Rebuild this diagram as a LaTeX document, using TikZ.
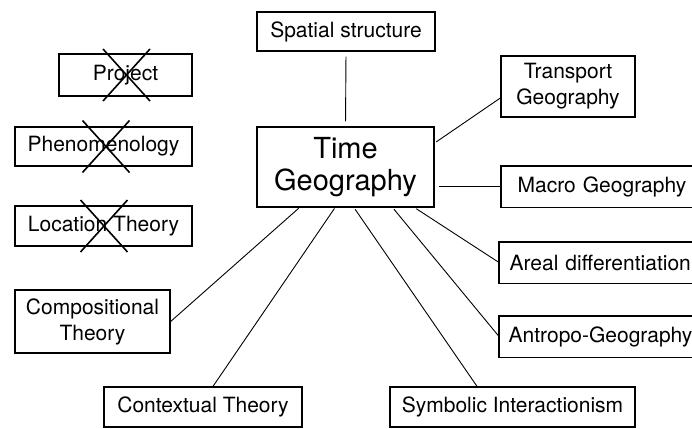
\documentclass[tikz,border=0pt]{standalone}
\usepackage{fontspec}
\setmainfont{TeX Gyre Heros}
\begin{document}
\begin{tikzpicture}[x=1pt, y=-1pt,
    topic/.style={rectangle, draw, line width=1.3pt, inner sep=0pt, align=center, font=\fontsize{21}{26}\selectfont},
    wide/.style={topic, draw=none, anchor=west, minimum height=40pt, text width=200pt, align=left},
    link/.style={line width=0.9pt},
    strike/.style={line width=1.6pt}
]
    \useasboundingbox (0,0) rectangle (692,428);
    \clip (0,0) rectangle (692,428);

    \node[topic, minimum width=178pt, minimum height=39pt] (spatial) at (346,31.5) {Spatial structure};
    \node[topic, minimum width=177pt, minimum height=80pt, font=\fontsize{29}{32}\selectfont] (time) at (345.5,167) {Time\\Geography};
    \node[topic, minimum width=134pt, minimum height=61pt] (transport) at (568,86.5) {Transport\\Geography};
    \node[wide, inner xsep=16pt] (macro) at (501,186.5) {Macro Geography};
    \node[wide, inner xsep=10pt] (areal) at (499,262.5) {Areal differentiation};
    \node[wide, inner xsep=9pt] (antropo) at (499,336.5) {Antropo-Geography};
    \node[topic, minimum width=245pt, minimum height=40pt] (symbolic) at (512.5,407) {Symbolic Interactionism};
    \node[topic, minimum width=198pt, minimum height=40pt] (contextual) at (203,407) {Contextual Theory};
    \node[topic, minimum width=155pt, minimum height=63pt] (compositional) at (92.5,321.5) {Compositional\\Theory};
    \node[topic, minimum width=133pt, minimum height=42pt] (project) at (125.5,75) {Project};
    \node[topic, minimum width=177pt, minimum height=39pt] (phenom) at (103.5,146.5) {Phenomenology};
    \node[topic, minimum width=177pt, minimum height=40pt] (location) at (103.5,226) {Location Theory};

    \foreach \n in {macro, areal, antropo}
        \draw[line width=1.3pt] (\n.north east) -- (\n.north west) -- (\n.south west) -- (\n.south east);

    \foreach \n/\dx in {project/1, phenom/2.5, location/0.5}
        \draw[strike] ([shift={(\dx-23.5,-26)}]\n.center) -- ([shift={(\dx+23.5,26)}]\n.center)
                      ([shift={(\dx+23.5,-26)}]\n.center) -- ([shift={(\dx-23.5,26)}]\n.center);

    \draw[link, shorten <=5pt, shorten >=5pt] (spatial.south) -- (time.north);
    \draw[link, shorten <=2pt] ([yshift=24pt]time.east) -- ([yshift=-11.5pt]transport.west);
    \draw[link, shorten <=4pt] (time.east |- macro.west) -- (macro.west);
    \draw[link, shorten <=2pt] ([xshift=-20pt]time.south east) -- (areal.west);
    \draw[link, shorten <=2pt] ([xshift=-42pt]time.south east) -- (antropo.west);
    \draw[link, shorten <=2pt] ([xshift=8.5pt]time.south) -- ([xshift=-35.5pt]symbolic.north);
    \draw[link, shorten <=1pt] ([xshift=-10.5pt]time.south) -- ([xshift=10pt]contextual.north);
    \draw[link, shorten <=1pt] ([xshift=43pt]time.south west) -- (compositional.east);
\end{tikzpicture}
\end{document}
